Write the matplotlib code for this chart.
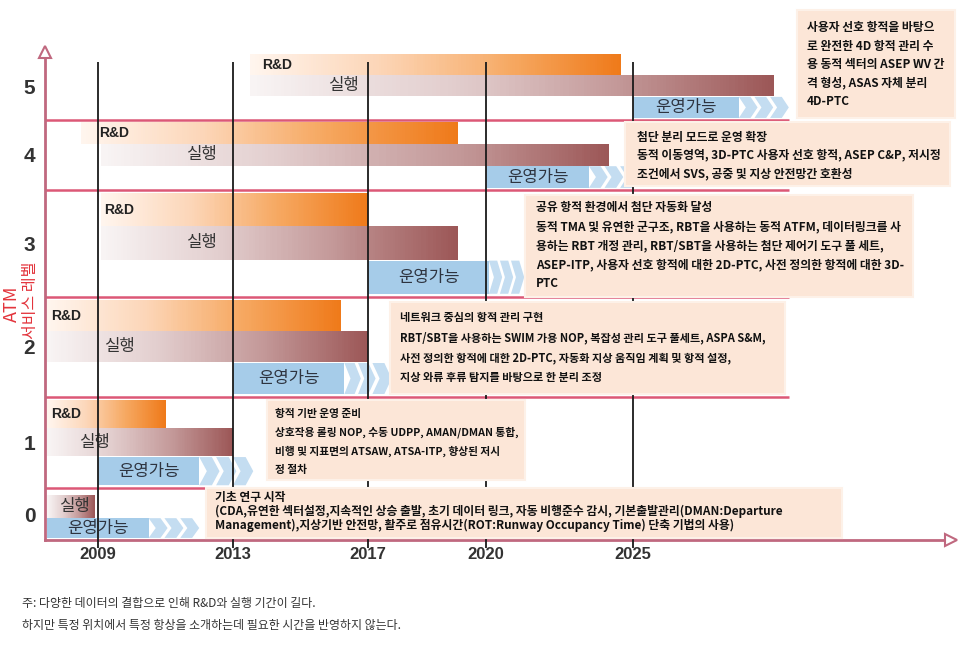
import numpy as np
import matplotlib

matplotlib.use("Agg")
import matplotlib.pyplot as plt
from matplotlib.colors import LinearSegmentedColormap
from matplotlib.patches import Rectangle

plt.rcParams["font.family"] = ["Noto Sans CJK KR", "DejaVu Sans"]

# ---- values ---------------------------------------------------------------
LEVELS = [0, 1, 2, 3, 4, 5]
YEARS = [2009, 2013, 2017, 2020, 2025]
YEAR_LABELS = ["2009", "2013", "2017", "2020", "2025"]

# bar extents per service level (list index = level), in years
RD_START = [None, 2007.5, 2007.5, 2009.1, 2008.5, 2013.5]
RD_END = [None, 2011.0, 2016.2, 2017.0, 2019.3, 2024.6]
EX_START = [2007.5, 2007.5, 2007.5, 2009.1, 2009.1, 2013.5]
EX_END = [2008.9, 2013.0, 2017.0, 2019.3, 2024.2, 2029.8]
OP_START = [2007.5, 2009.0, 2013.0, 2017.0, 2020.0, 2025.0]
OP_SOLID_END = [2010.5, 2012.0, 2016.3, 2020.1, 2023.5, 2028.6]
OP_END = [2012.0, 2013.6, 2017.6, 2021.3, 2025.2, 2030.3]

BOX_TEXTS = [
    ["기초 연구 시작",
     "(CDA,유연한 섹터설정,지속적인 상승 출발, 초기 데이터 링크, 자동 비행준수 감시, 기본출발관리(DMAN:Departure",
     "Management),지상기반 안전망, 활주로 점유시간(ROT:Runway Occupancy Time) 단축 기법의 사용)"],
    ["항적 기반 운영 준비",
     "상호작용 롤링 NOP, 수동 UDPP, AMAN/DMAN 통합,",
     "비행 및 지표면의 ATSAW, ATSA-ITP, 향상된 저시",
     "정 절차"],
    ["네트워크 중심의 항적 관리 구현",
     "RBT/SBT을 사용하는 SWIM 가용 NOP, 복잡성 관리 도구 풀세트, ASPA S&M,",
     "사전 정의한 항적에 대한 2D-PTC, 자동화 지상 움직임 계획 및 항적 설정,",
     "지상 와류 후류 탐지를 바탕으로 한 분리 조정"],
    ["공유 항적 환경에서 첨단 자동화 달성",
     "동적 TMA 및 유연한 군구조, RBT을 사용하는 동적 ATFM, 데이터링크를 사",
     "용하는 RBT 개정 관리, RBT/SBT을 사용하는 첨단 제어기 도구 풀 세트,",
     "ASEP-ITP, 사용자 선호 항적에 대한 2D-PTC, 사전 정의한 항적에 대한 3D-",
     "PTC"],
    ["첨단 분리 모드로 운영 확장",
     "동적 이동영역, 3D-PTC 사용자 선호 항적, ASEP C&P, 저시정",
     "조건에서 SVS, 공중 및 지상 안전망간 호환성"],
    ["사용자 선호 항적을 바탕으",
     "로 완전한 4D 항적 관리 수",
     "용 동적 섹터의 ASEP WV 간",
     "격 형성, ASAS 자체 분리",
     "4D-PTC"],
]

NOTES = ["주: 다양한 데이터의 결합으로 인해 R&D와 실행 기간이 길다.",
         "하지만 특정 위치에서 특정 항상을 소개하는데 필요한 시간을 반영하지 않는다."]

# ---- layout -----------------------------------------------------------------
W, H = 961, 647
# time axis is not linear in the source: year -> pixel column
X_KNOTS = [2000, 2009, 2013, 2017, 2020, 2025, 2045]
X_PIX = [-205.75, 98, 233, 368, 486, 633, 1221]
# level bands have different heights: band edge -> pixel row (from top)
Y_KNOTS = [-3, -0.5, 0.5, 1.5, 2.5, 3.5, 4.5, 5.5, 8]
Y_PIX = [670, 540, 488, 397, 297, 190, 120, 52, -118]

AXIS_X0, AXIS_X1, BAND_END = 2007.43, 2035.8, 2030.3
ROWS = {"rd": (0.66, 0.97), "ex": (0.35, 0.66), "op": (0.03, 0.34)}
ROWS0 = {"ex": (0.42, 0.87), "op": (0.04, 0.42)}
RD_DX = [0, 4, 4, 3, 18, 12]       # label offset from bar start, px
EX_DX = [12, 32, 57, 85, 85, 78]

# (left, top, width, height, text x, first line y, line step, font size)
BOX_LAYOUT = [
    (206, 488, 636, 50, 215, 498, 13.8, 8.5),
    (267, 400, 258, 80, 275, 414, 18.7, 7.7),
    (390, 302, 395, 92, 400, 318, 19.8, 8),
    (525, 195, 388, 102, 536, 208, 18.8, 8.5),
    (625, 122, 325, 64, 637, 137, 18.2, 8.5),
    (797, 10, 158, 108, 807, 28, 18.3, 8.5),
]

AXIS_COLOR = "#c0687f"
BAND_COLOR = "#dc5876"
RED = "#e3343c"
RD_CMAP = LinearSegmentedColormap.from_list("rd", ["#fff5ee", "#fcd6b8", "#f6a861", "#ef7a1a"])
EX_CMAP = LinearSegmentedColormap.from_list("ex", ["#f8f4f4", "#e3cfcf", "#c49a9a", "#9c5757"])
OP_FC = "#a6cce9"
CHEV_FC = "#c4ddf1"
BOX_FC = "#fce6d7"


def fwd_x(v):
    return np.interp(v, X_KNOTS, X_PIX)


def inv_x(p):
    return np.interp(p, X_PIX, X_KNOTS)


def fwd_y(v):
    return H - np.interp(v, Y_KNOTS, Y_PIX)


def inv_y(p):
    return np.interp(H - np.asarray(p), Y_PIX[::-1], Y_KNOTS[::-1])


def row(level, kind):
    f0, f1 = (ROWS0 if level == 0 else ROWS)[kind]
    return level - 0.5 + f0, level - 0.5 + f1


def gradient_bar(ax, x0, x1, y0, y1, cmap):
    xs = np.linspace(x0, x1, 160)
    c = np.linspace(0, 1, len(xs) - 1)[None, :]
    ax.pcolormesh(xs, [y0, y1], c, cmap=cmap, vmin=0, vmax=1, shading="flat",
                  edgecolors="none", antialiased=False, zorder=1)


def chevrons(ax, x0, x1, y0, y1):
    w = (x1 - x0) / 3.2
    t, d = 0.75 * w, 0.45 * w
    ym = (y0 + y1) / 2
    for i in range(3):
        a = x0 + i * w
        ax.fill([a, a + t, a + t + d, a + t, a, a + d],
                [y1, y1, ym, y0, y0, ym], color=CHEV_FC, lw=0, zorder=1)


fig = plt.figure(figsize=(W / 100, H / 100), dpi=100)
ax = fig.add_axes([0, 0, 1, 1])
ax.set_xscale("function", functions=(fwd_x, inv_x))
ax.set_yscale("function", functions=(fwd_y, inv_y))
ax.patch.set_visible(False)

label_kw = dict(textcoords="offset points", va="center", ha="left", zorder=3)
for lv in LEVELS:
    if RD_START[lv] is not None:
        y0, y1 = row(lv, "rd")
        gradient_bar(ax, RD_START[lv], RD_END[lv], y0, y1, RD_CMAP)
        ax.annotate("R&D", (RD_START[lv], (y0 + y1) / 2), xytext=(RD_DX[lv] * 0.72, 0),
                    fontsize=10, fontweight="bold", family="Liberation Sans",
                    color="#222222", **label_kw)
    y0, y1 = row(lv, "ex")
    gradient_bar(ax, EX_START[lv], EX_END[lv], y0, y1, EX_CMAP)
    ax.annotate("실행", (EX_START[lv], (y0 + y1) / 2), xytext=(EX_DX[lv] * 0.72, 0),
                fontsize=12, color="#333333", **label_kw)
    y0, y1 = row(lv, "op")
    ax.fill_between([OP_START[lv], OP_SOLID_END[lv]], y0, y1, color=OP_FC, lw=0, zorder=1)
    chevrons(ax, OP_SOLID_END[lv], OP_END[lv], y0, y1)
    xm = inv_x((fwd_x(OP_START[lv]) + fwd_x(OP_SOLID_END[lv])) / 2)
    ax.text(xm, (y0 + y1) / 2, "운영가능", fontsize=12, color="#2e3440",
            ha="center", va="center", zorder=3)

ax.hlines([lv + 0.5 for lv in LEVELS[:-1]], AXIS_X0, BAND_END,
          colors=BAND_COLOR, lw=1.8, zorder=2)
ax.vlines(YEARS, -0.65, 5.35, colors="#1a1a1a", lw=1.3, zorder=4)

ax.spines[["top", "right"]].set_visible(False)
ax.spines["left"].set_position(("data", AXIS_X0))
ax.spines["bottom"].set_position(("data", -0.5))
ax.spines["left"].set_bounds(-0.5, 5.5)
ax.spines["bottom"].set_bounds(AXIS_X0, AXIS_X1)
for s in ("left", "bottom"):
    ax.spines[s].set_color(AXIS_COLOR)
    ax.spines[s].set_linewidth(2)
ax.plot([AXIS_X1], [-0.5], marker=">", ms=8, mfc="white", mec=AXIS_COLOR,
        mew=1.5, clip_on=False, zorder=5)
ax.plot([AXIS_X0], [5.5], marker="^", ms=8, mfc="white", mec=AXIS_COLOR,
        mew=1.5, clip_on=False, zorder=5)

ax.set_xticks(YEARS)
ax.set_xticklabels(YEAR_LABELS, fontsize=12, fontweight="bold",
                   family="Liberation Sans", color="#333333")
ax.set_yticks(LEVELS)
ax.set_yticklabels([str(v) for v in LEVELS], fontsize=15, fontweight="bold",
                   family="Liberation Sans", color="#333333")
ax.tick_params(axis="x", length=0, pad=5)
ax.tick_params(axis="y", length=0, pad=7)
ax.minorticks_off()

ax.set_xlim(float(inv_x(0)), float(inv_x(W)))
ax.set_ylim(float(inv_y(0)), float(inv_y(H)))

# ---- overlay in pixel space: description boxes, axis title, notes ------------
ov = fig.add_axes([0, 0, 1, 1])
ov.set_xlim(0, W)
ov.set_ylim(H, 0)
ov.axis("off")

for lines, (bx, by, bw, bh, tx, ty, step, size) in zip(BOX_TEXTS, BOX_LAYOUT):
    ov.add_patch(Rectangle((bx, by), bw, bh, facecolor=BOX_FC,
                           edgecolor="#fdf1e8", lw=1.5))
    for i, line in enumerate(lines):
        ov.text(tx, ty + i * step, line, fontsize=size, fontweight="bold",
                color="#111111", ha="left", va="center")

ov.text(12, 304, "ATM", rotation=90, fontsize=13, color=RED, ha="center", va="center")
ov.text(31, 300, "서비스 레벨", rotation=90, fontsize=11.5, color=RED,
        ha="center", va="center")

for i, note in enumerate(NOTES):
    ov.text(22, 603 + i * 22, note, fontsize=8.6, color="#333333", ha="left", va="center")

fig.savefig("out.png", dpi=100, facecolor="white")
